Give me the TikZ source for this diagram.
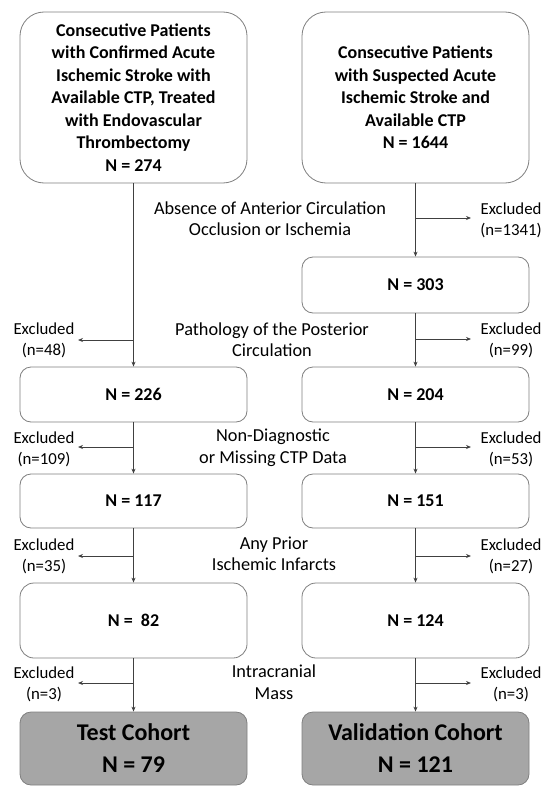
\documentclass[tikz,border=0pt]{standalone}
\usepackage{fontspec}
\setmainfont{Carlito}
\usepackage{tikz}
\usetikzlibrary{arrows.meta}
\usepackage{xcolor}

\definecolor{boxline}{HTML}{7F7F7F}
\definecolor{flowline}{HTML}{404040}
\definecolor{cohortfill}{HTML}{A6A6A6}

\tikzset{
    stagebox/.style={draw=boxline, line width=0.8pt, rounded corners=11pt, fill=white,
        minimum width=227pt, inner sep=0pt, align=center,
        font=\bfseries\fontsize{18}{22.5}\selectfont},
    cohortbox/.style={stagebox, fill=cohortfill,
        font=\bfseries\fontsize{24}{32}\selectfont},
    flow/.style={draw=flowline, line width=0.8pt, -{Stealth[length=5pt, width=4pt]}},
    exclabel/.style={align=center, inner sep=0pt, font=\fontsize{16.8}{21}\selectfont},
    reason/.style={align=center, inner sep=0pt, font=\fontsize{18.3}{21.5}\selectfont}
}

\begin{document}
\begin{tikzpicture}[x=1pt, y=-1pt]
    \useasboundingbox (0,0) rectangle (546,792);

    % Draw the source boxes
    \node[stagebox, rounded corners=24pt, minimum height=171pt] (ltop) at (133.5,97.5)
        {Consecutive Patients\\with Confirmed Acute\\Ischemic Stroke with\\Available CTP, Treated\\with Endovascular\\Thrombectomy\\N = 274};
    \node[stagebox, rounded corners=24pt, minimum height=171pt] (rtop) at (415.5,97.5)
        {Consecutive Patients\\with Suspected Acute\\Ischemic Stroke and\\Available CTP\\N = 1644};

    % Draw the intermediate boxes
    \node[stagebox, minimum height=56pt] (r303) at (415.5,285) {N = 303};
    \node[stagebox, minimum height=55pt] (l226) at (133.5,394.5) {N = 226};
    \node[stagebox, minimum height=55pt] (r204) at (415.5,394.5) {N = 204};
    \node[stagebox, minimum height=54pt] (l117) at (133.5,501) {N = 117};
    \node[stagebox, minimum height=54pt] (r151) at (415.5,501) {N = 151};
    \node[stagebox, rounded corners=14pt, minimum height=75pt] (l82) at (133.5,620.5) {N =\ \ 82};
    \node[stagebox, rounded corners=14pt, minimum height=75pt] (r124) at (415.5,620.5) {N = 124};

    % Draw the final cohorts
    \node[cohortbox, minimum height=73pt] (ltest) at (133.5,748.5) {Test Cohort\\N = 79};
    \node[cohortbox, minimum height=73pt] (rval) at (415.5,748.5) {Validation Cohort\\N = 121};

    % Exclusion reasons between the columns
    \node[reason] (why1) at (270,218.5) {Absence of Anterior Circulation\\Occlusion or Ischemia};
    \node[reason] (why2) at (272,339.5) {Pathology of the Posterior\\Circulation};
    \node[reason] (why3) at (273,447.5) {Non-Diagnostic\\or Missing CTP Data};
    \node[reason] (why4) at (274,554) {Any Prior\\Ischemic Infarcts};
    \node[reason] (why5) at (274,682) {Intracranial\\Mass};

    % Excluded counts, left column
    \node[exclabel] (xl2) at (44,340) {Excluded\\(n=48)};
    \node[exclabel] (xl3) at (44,449) {Excluded\\(n=109)};
    \node[exclabel] (xl4) at (44,556) {Excluded\\(n=35)};
    \node[exclabel] (xl5) at (44,684) {Excluded\\(n=3)};

    % Excluded counts, right column
    \node[exclabel] (xr1) at (511,220) {Excluded\\(n=1341)};
    \node[exclabel] (xr2) at (511,340) {Excluded\\(n=99)};
    \node[exclabel] (xr3) at (511,449) {Excluded\\(n=53)};
    \node[exclabel] (xr4) at (511,556) {Excluded\\(n=27)};
    \node[exclabel] (xr5) at (511,684) {Excluded\\(n=3)};

    % Branch points on the main lines and tips of the side arrows
    \coordinate (bl2) at (133.5,340);
    \coordinate (bl3) at (133.5,447);
    \coordinate (bl4) at (133.5,556);
    \coordinate (bl5) at (133.5,683);
    \coordinate (tl2) at (78,340);
    \coordinate (tl3) at (78,447);
    \coordinate (tl4) at (78,556);
    \coordinate (tl5) at (78,683);
    \coordinate (br1) at (415.5,218);
    \coordinate (br2) at (415.5,339);
    \coordinate (br3) at (415.5,447);
    \coordinate (br4) at (415.5,556);
    \coordinate (br5) at (415.5,683);
    \coordinate (tr1) at (471,218);
    \coordinate (tr2) at (471,339);
    \coordinate (tr3) at (471,447);
    \coordinate (tr4) at (471,556);
    \coordinate (tr5) at (471,683);

    % Draw main flow - left column
    \draw[flow] (ltop) -- (l226);
    \draw[flow] (l226) -- (l117);
    \draw[flow] (l117) -- (l82);
    \draw[flow] (l82) -- (ltest);

    % Draw main flow - right column
    \draw[flow] (rtop) -- (r303);
    \draw[flow] (r303) -- (r204);
    \draw[flow] (r204) -- (r151);
    \draw[flow] (r151) -- (r124);
    \draw[flow] (r124) -- (rval);

    % Draw side arrows to the excluded counts
    \foreach \k in {2,3,4,5} {
        \draw[flow] (bl\k) -- (tl\k);
    }
    \foreach \k in {1,2,3,4,5} {
        \draw[flow] (br\k) -- (tr\k);
    }
\end{tikzpicture}
\end{document}
